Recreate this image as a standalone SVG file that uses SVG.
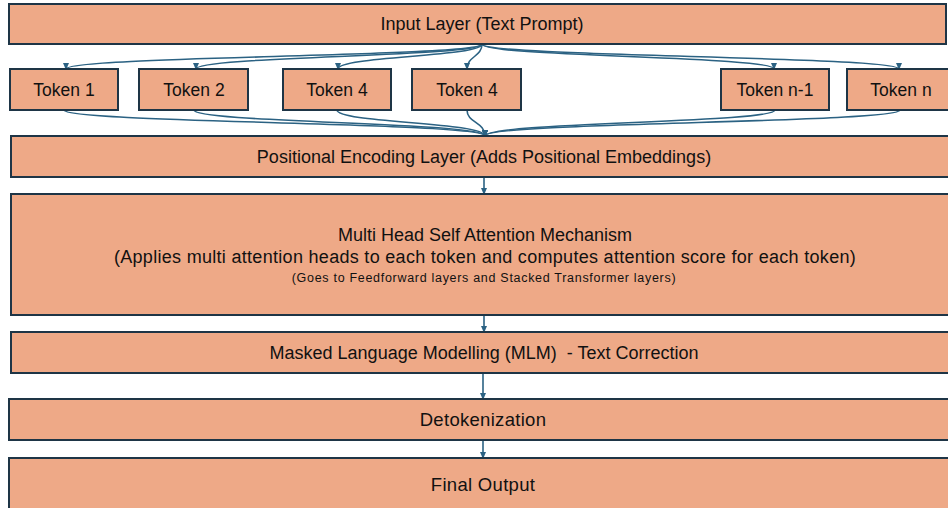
<svg xmlns="http://www.w3.org/2000/svg" width="948" height="508" viewBox="0 0 948 508">
<defs>
<style>
.box{fill:#EEA987;stroke:#1E3546;stroke-width:2}
.t{font-family:"Liberation Sans",Arial,sans-serif;font-size:18px;fill:#111;text-anchor:middle;dominant-baseline:central}
.tk{font-size:17.5px}
.w{font-size:18.5px;letter-spacing:0.3px}
.s{font-size:12.5px;letter-spacing:0.7px}
.c{fill:none;stroke:#2B6283;stroke-width:1.6}
</style>
<marker id="ah" markerWidth="8" markerHeight="8" refX="6" refY="4" orient="auto" markerUnits="userSpaceOnUse">
<path d="M0,1 L7,4 L0,7 Z" fill="#2B6283"/>
</marker>
</defs>
<rect width="948" height="508" fill="#fff"/>
<g id="connectors">
<path class="c" marker-end="url(#ah)" d="M482,44 C482,57 66,56 66,69"/>
<path class="c" marker-end="url(#ah)" d="M482,44 C482,57 196,56 196,69"/>
<path class="c" marker-end="url(#ah)" d="M482,44 C482,57 338,56 338,69"/>
<path class="c" marker-end="url(#ah)" d="M482,44 C482,57 467,56 467,69"/>
<path class="c" marker-end="url(#ah)" d="M482,44 C482,57 774,56 774,69"/>
<path class="c" marker-end="url(#ah)" d="M482,44 C482,57 899,56 899,69"/>
<path class="c" marker-end="url(#ah)" d="M64,110 C64,123 485,122 485,136"/>
<path class="c" marker-end="url(#ah)" d="M194,110 C194,123 485,122 485,136"/>
<path class="c" marker-end="url(#ah)" d="M337,110 C337,123 485,122 485,136"/>
<path class="c" marker-end="url(#ah)" d="M467,110 C467,123 485,122 485,136"/>
<path class="c" marker-end="url(#ah)" d="M775,110 C775,123 485,122 485,136"/>
<path class="c" marker-end="url(#ah)" d="M900,110 C900,123 485,122 485,136"/>
<path class="c" marker-end="url(#ah)" d="M484,177 L484,194"/>
<path class="c" marker-end="url(#ah)" d="M484,315 L484,332"/>
<path class="c" marker-end="url(#ah)" d="M483,373 L483,399"/>
<path class="c" marker-end="url(#ah)" d="M483,440 L483,458"/>
</g>
<g id="input"><rect class="box" x="9" y="4" width="937" height="40"/><text class="t" x="482" y="24">Input Layer (Text Prompt)</text></g>
<g id="token1"><rect class="box" x="10" y="69" width="108" height="41"/><text class="t tk" x="64" y="90">Token 1</text></g>
<g id="token2"><rect class="box" x="139" y="69" width="109" height="41"/><text class="t tk" x="194" y="90">Token 2</text></g>
<g id="token4a"><rect class="box" x="283" y="69" width="108" height="41"/><text class="t tk" x="337" y="90">Token 4</text></g>
<g id="token4b"><rect class="box" x="412" y="69" width="109" height="41"/><text class="t tk" x="467" y="90">Token 4</text></g>
<g id="tokenn1"><rect class="box" x="721" y="69" width="108" height="41"/><text class="t tk" x="775" y="90">Token n-1</text></g>
<g id="tokenn"><rect class="box" x="847" y="69" width="110" height="41"/><text class="t tk" x="901" y="90">Token n</text></g>
<g id="posenc"><rect class="box" x="11" y="136" width="945" height="41"/><text class="t" x="484" y="157">Positional Encoding Layer (Adds Positional Embeddings)</text></g>
<g id="mhsa"><rect class="box" x="11" y="194" width="945" height="121"/>
<text class="t" x="485" y="235">Multi Head Self Attention Mechanism</text>
<text class="t" x="485" y="257" letter-spacing="0.3">(Applies multi attention heads to each token and computes attention score for each token)</text>
<text class="t s" x="484" y="278">(Goes to Feedforward layers and Stacked Transformer layers)</text></g>
<g id="mlm"><rect class="box" x="11" y="332" width="945" height="41"/><text class="t" x="484" y="353" xml:space="preserve">Masked Language Modelling (MLM)  - Text Correction</text></g>
<g id="detok"><rect class="box" x="9" y="399" width="947" height="41"/><text class="t w" x="483" y="419">Detokenization</text></g>
<g id="final"><rect class="box" x="9" y="458" width="947" height="60"/><text class="t w" x="483" y="484">Final Output</text></g>
</svg>
